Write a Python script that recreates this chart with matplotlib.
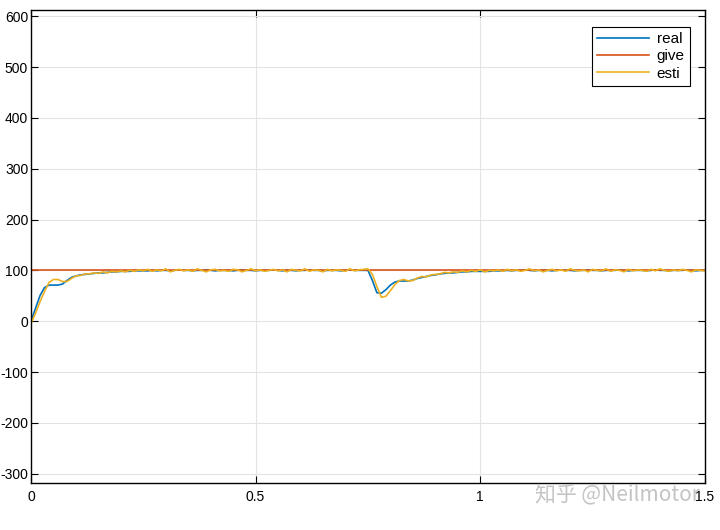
import matplotlib.pyplot as plt
import numpy as np

# sample grid, 0.01 s step
time = np.linspace(0.0, 1.5, 151)

real = [
    0, 25, 50, 66, 71, 71, 71, 73, 80, 86, 89, 91, 92, 93, 94, 95, 95, 96, 97, 97, 98, 98, 98, 99, 99, 99,
    99, 100, 99, 100, 100, 99, 100, 101, 100, 100,
    99, 100, 100, 101, 100, 99, 100, 100, 100, 99,
    100, 101, 100, 100, 99, 100, 100, 100, 101, 100,
    99, 100, 100, 99, 100, 100, 101, 100, 100, 99,
    100, 100, 100, 99, 100, 101, 100, 100, 100,
    100, 80, 56, 55, 62, 71, 77, 79, 79, 79,
    81, 84, 86, 88, 90, 91, 93, 94, 95, 95,
    96, 97, 97, 98, 98, 98, 98, 98, 99, 99, 99,
    100, 99, 100, 100, 101, 100, 99, 100, 100, 100,
    99, 100, 101, 100, 100, 99, 100, 100, 101, 100,
    100, 99, 100, 100, 100, 101, 100, 99, 100, 100,
    100, 99, 100, 101, 100, 100, 99, 100, 100, 100,
    101, 100, 99, 100, 100,
]

esti = [
    -4, 15, 38, 58, 76, 82, 82, 78, 78, 84, 89, 90, 93, 93, 95, 94, 97, 95, 98, 97, 99, 97, 100, 98, 101, 99,
    102, 98, 101, 99, 103, 97, 100, 102, 99, 101,
    98, 103, 100, 97, 101, 102, 99, 100, 98, 102,
    101, 97, 100, 103, 99, 101, 98, 100, 102, 99,
    101, 97, 102, 100, 99, 103, 98, 101, 100, 97,
    102, 99, 101, 100, 98, 103, 99, 101, 102,
    103, 92, 68, 47, 49, 60, 72, 80, 82, 79,
    80, 85, 88, 87, 91, 92, 93, 96, 95, 97,
    96, 99, 97, 100, 98, 101, 97, 100, 99, 101, 98,
    102, 99, 101, 98, 100, 103, 99, 101, 97, 100,
    102, 99, 101, 98, 103, 100, 99, 101, 97, 102,
    100, 99, 103, 98, 101, 100, 97, 102, 99, 101,
    100, 98, 102, 99, 103, 100, 98, 101, 99, 102,
    100, 97, 101, 100, 99,
]

give_time = [0.0, 1.5]
give = [100, 100]

x_ticks = [0, 0.5, 1, 1.5]
x_labels = ["0", "0.5", "1", "1.5"]
y_ticks = [-300, -200, -100, 0, 100, 200, 300, 400, 500, 600]

plt.rcParams["font.family"] = ["Liberation Sans", "DejaVu Sans"]
plt.rcParams["axes.unicode_minus"] = False

fig = plt.figure(figsize=(7.2, 5.3), dpi=100)
ax = fig.add_axes([0.043, 0.089, 0.936, 0.892])

ax.plot(time, real, color="#0072BD", lw=1.2, label="real")
ax.plot(give_time, give, color="#D95319", lw=1.2, label="give")
ax.plot(time, esti, color="#EDB120", lw=1.2, label="esti")

ax.set_xlim(0, 1.5)
ax.set_ylim(-318, 612)
ax.set_xticks(x_ticks)
ax.set_xticklabels(x_labels)
ax.set_yticks(y_ticks)
ax.grid(True, color="#e3e3e3", lw=0.8)
ax.set_axisbelow(True)
ax.tick_params(direction="in", top=True, right=True, labelsize=10, length=5, width=0.8)
ax.tick_params(axis="y", pad=2)
ax.tick_params(axis="x", pad=5)
for spine in ax.spines.values():
    spine.set_linewidth(1.0)
    spine.set_color("black")

leg = ax.legend(loc="upper right", bbox_to_anchor=(0.978, 0.964), borderaxespad=0, fontsize=11,
                handlelength=3.4, handletextpad=0.5, borderpad=0.35, labelspacing=0.2,
                fancybox=False, framealpha=1)
leg.get_frame().set_edgecolor("black")
leg.get_frame().set_linewidth(0.8)

fig.text(0.743, 0.068, "知乎 @Neilmotor", fontsize=15, color="#c4c4c4",
         family=["Noto Sans CJK SC", "DejaVu Sans"], va="center")

fig.savefig("out.png", dpi=100)
